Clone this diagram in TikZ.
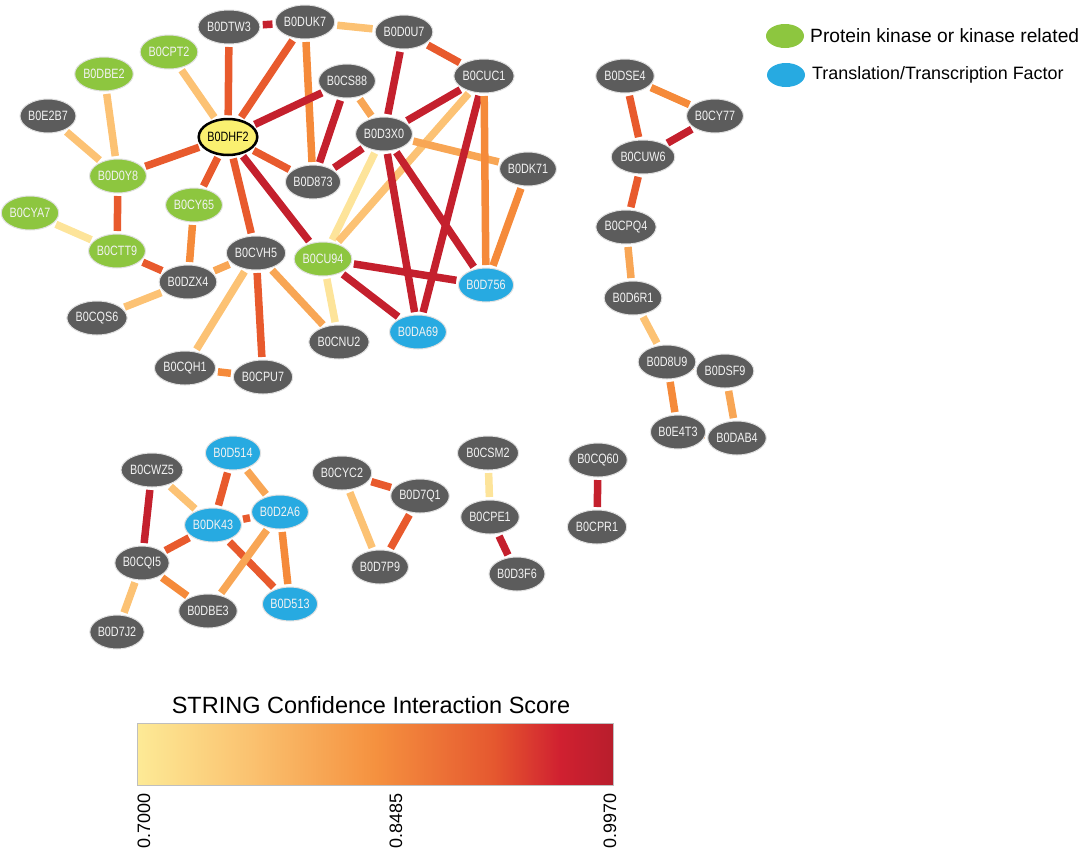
\documentclass[tikz,border=0pt]{standalone}
\usepackage{fontspec}
\setmainfont{Liberation Sans}
\newfontfamily\nodefont[FakeStretch=0.8]{Liberation Sans}
\usetikzlibrary{shapes.geometric}
\pgfdeclarelayer{edgelayer}
\pgfsetlayers{edgelayer,main}
\definecolor{ngray}{RGB}{92,92,92}
\definecolor{ngreen}{RGB}{141,198,63}
\definecolor{nblue}{RGB}{39,170,225}
\definecolor{nyellow}{RGB}{250,240,112}
\definecolor{sA}{HTML}{FDE49A}
\definecolor{sB}{HTML}{FCC274}
\definecolor{sC}{HTML}{F8A655}
\definecolor{sD}{HTML}{F58A3A}
\definecolor{sE}{HTML}{E85A2D}
\definecolor{sF}{HTML}{C4202D}
\definecolor{gA}{HTML}{FDEA96}
\definecolor{gB}{HTML}{FAC06E}
\definecolor{gC}{HTML}{F5913F}
\definecolor{gD}{HTML}{E5572F}
\definecolor{gE}{HTML}{D02030}
\definecolor{gF}{HTML}{B81E2C}
\tikzset{
  prot/.style={ellipse, minimum width=51pt, minimum height=34pt, inner sep=0pt,
    fill=ngray, draw=white!88!black, line width=1pt, text=white!95!black,
    font=\nodefont\fontsize{13.5}{14}\selectfont},
  kin/.style={prot, fill=ngreen},
  tf/.style={prot, fill=nblue},
  hub/.style={prot, fill=nyellow, draw=black, line width=2.5pt, text=black,
    minimum width=54pt, minimum height=36pt},
  lnk/.style={line width=7.5pt, shorten >=2.5pt, shorten <=2.5pt},
  lA/.style={lnk, draw=sA}, lB/.style={lnk, draw=sB}, lC/.style={lnk, draw=sC},
  lD/.style={lnk, draw=sD}, lE/.style={lnk, draw=sE}, lF/.style={lnk, draw=sF},
  legdot/.style={ellipse, minimum width=38pt, minimum height=24pt, inner sep=0pt},
  legtext/.style={anchor=west, inner sep=0pt},
  ticklabel/.style={rotate=90, anchor=east, inner sep=0pt, font=\fontsize{18}{18}\selectfont}
}
\newcommand\lk[3]{\draw[#1] (#2) -- (#3);}
\begin{document}
\begin{tikzpicture}[x=1pt,y=-1pt]
\useasboundingbox (0,0) rectangle (1084,860);
% main cluster
\node[prot] (DTW3) at (229,27) {B0DTW3};
\node[prot] (DUK7) at (305,22) {B0DUK7};
\node[prot] (D0U7) at (404,32) {B0D0U7};
\node[kin]  (CPT2) at (169,52) {B0CPT2};
\node[kin]  (DBE2) at (104,74) {B0DBE2};
\node[prot] (CS88) at (347,81) {B0CS88};
\node[prot] (CUC1) at (484,76) {B0CUC1};
\node[prot] (E2B7) at (48,116) {B0E2B7};
\node[hub]  (DHF2) at (228,137) {B0DHF2};
\node[prot] (D3X0) at (384,134) {B0D3X0};
\node[prot] (DK71) at (528,169) {B0DK71};
\node[prot] (D873) at (313,182) {B0D873};
\node[kin]  (D0Y8) at (118,176) {B0D0Y8};
\node[kin]  (CY65) at (194,205) {B0CY65};
\node[kin]  (CYA7) at (30,213) {B0CYA7};
\node[kin]  (CTT9) at (117,251) {B0CTT9};
\node[prot] (CVH5) at (256,253) {B0CVH5};
\node[kin]  (CU94) at (323,259) {B0CU94};
\node[prot] (DZX4) at (188,282) {B0DZX4};
\node[tf]   (D756) at (486,285) {B0D756};
\node[prot] (CQS6) at (97,318) {B0CQS6};
\node[tf]   (DA69) at (418,332) {B0DA69};
\node[prot] (CNU2) at (339,342) {B0CNU2};
\node[prot] (CQH1) at (185,368) {B0CQH1};
\node[prot] (CPU7) at (263,377) {B0CPU7};
% right cluster
\node[prot] (DSE4) at (625,76) {B0DSE4};
\node[prot] (CY77) at (715,116) {B0CY77};
\node[prot] (CUW6) at (643,157) {B0CUW6};
\node[prot] (CPQ4) at (626,227) {B0CPQ4};
\node[prot] (D6R1) at (633,298) {B0D6R1};
\node[prot] (D8U9) at (667,362) {B0D8U9};
\node[prot] (DSF9) at (725,371) {B0DSF9};
\node[prot] (E4T3) at (678,432) {B0E4T3};
\node[prot] (DAB4) at (737,438) {B0DAB4};
% bottom clusters
\node[tf]   (D514) at (233,453) {B0D514};
\node[prot] (CWZ5) at (152,470) {B0CWZ5};
\node[tf]   (D2A6) at (280,512) {B0D2A6};
\node[tf]   (DK43) at (213,525) {B0DK43};
\node[prot] (CQI5) at (142,563) {B0CQI5};
\node[prot] (DBE3) at (208,611) {B0DBE3};
\node[tf]   (D513) at (290,604) {B0D513};
\node[prot] (D7J2) at (117,632) {B0D7J2};
\node[prot] (CYC2) at (342,473) {B0CYC2};
\node[prot] (D7Q1) at (420,496) {B0D7Q1};
\node[prot] (D7P9) at (380,567) {B0D7P9};
\node[prot] (CSM2) at (488,453) {B0CSM2};
\node[prot] (CPE1) at (490,517) {B0CPE1};
\node[prot] (D3F6) at (517,574) {B0D3F6};
\node[prot] (CQ60) at (598,460) {B0CQ60};
\node[prot] (CPR1) at (597,527) {B0CPR1};
\begin{pgfonlayer}{edgelayer}
\lk{lF}{DTW3}{DUK7}
\lk{lB}{DUK7}{D0U7}
\lk{lE}{D0U7}{CUC1}
\lk{lF}{D0U7}{D3X0}
\lk{lE}{DHF2}{DTW3}
\lk{lE}{DHF2}{DUK7}
\lk{lD}{DUK7}{D873}
\lk{lB}{DHF2}{CPT2}
\lk{lF}{DHF2}{CS88}
\lk{lF}{CS88}{D873}
\lk{lC}{CS88}{D3X0}
\lk{lF}{D3X0}{D873}
\lk{lE}{DHF2}{D873}
\lk{lE}{DHF2}{D0Y8}
\lk{lB}{D0Y8}{DBE2}
\lk{lB}{D0Y8}{E2B7}
\lk{lE}{D0Y8}{CTT9}
\lk{lA}{CTT9}{CYA7}
\lk{lE}{CTT9}{DZX4}
\lk{lE}{DHF2}{CY65}
\lk{lD}{CY65}{DZX4}
\lk{lC}{DZX4}{CVH5}
\lk{lB}{DZX4}{CQS6}
\lk{lE}{DHF2}{CVH5}
\lk{lF}{DHF2}{CU94}
\lk{lB}{CVH5}{CQH1}
\lk{lE}{CVH5}{CPU7}
\lk{lC}{CVH5}{CNU2}
\lk{lD}{CQH1}{CPU7}
\lk{lA}{CU94}{CNU2}
\lk{lA}{CU94}{D3X0}
\lk{lB}{CU94}{CUC1}
\lk{lF}{CU94}{D756}
\lk{lF}{CU94}{DA69}
\lk{lF}{D3X0}{CUC1}
\lk{lC}{D3X0}{DK71}
\lk{lF}{D3X0}{DA69}
\lk{lF}{D3X0}{D756}
\lk{lF}{CUC1}{DA69}
\lk{lD}{CUC1}{D756}
\lk{lD}{DK71}{D756}
\lk{lD}{DSE4}{CY77}
\lk{lE}{DSE4}{CUW6}
\lk{lF}{CY77}{CUW6}
\lk{lE}{CUW6}{CPQ4}
\lk{lC}{CPQ4}{D6R1}
\lk{lB}{D6R1}{D8U9}
\lk{lD}{D8U9}{DSF9}
\lk{lD}{D8U9}{E4T3}
\lk{lC}{DSF9}{DAB4}
\lk{lD}{E4T3}{DAB4}
\lk{lF}{CWZ5}{CQI5}
\lk{lB}{CWZ5}{DK43}
\lk{lE}{D514}{DK43}
\lk{lC}{D514}{D2A6}
\lk{lE}{DK43}{D2A6}
\lk{lE}{DK43}{CQI5}
\lk{lE}{DK43}{D513}
\lk{lC}{D2A6}{DBE3}
\lk{lD}{D2A6}{D513}
\lk{lD}{CQI5}{DBE3}
\lk{lB}{CQI5}{D7J2}
\lk{lE}{CYC2}{D7Q1}
\lk{lB}{CYC2}{D7P9}
\lk{lE}{D7Q1}{D7P9}
\lk{lA}{CSM2}{CPE1}
\lk{lF}{CPE1}{D3F6}
\lk{lF}{CQ60}{CPR1}
\end{pgfonlayer}
% legend
\node[legdot, fill=ngreen] (legK) at (785,36) {};
\node[legdot, fill=nblue] (legT) at (786,75) {};
\node[legtext, font=\fontsize{19.2}{20}\selectfont] (legKt) at (810,36) {Protein kinase or kinase related};
\node[legtext, font=\fontsize{17.9}{19}\selectfont] (legTt) at (812,75) {Translation/Transcription Factor};
% colour bar
\node[font=\fontsize{23.5}{24}\selectfont, inner sep=0pt] (cbtitle) at (371,705) {STRING Confidence Interaction Score};
\shade[left color=gA, right color=gB] (137,723) rectangle (255.5,785);
\shade[left color=gB, right color=gC] (255,723) rectangle (375.5,785);
\shade[left color=gC, right color=gD] (375,723) rectangle (495.5,785);
\shade[left color=gD, right color=gE] (495,723) rectangle (560.5,785);
\shade[left color=gE, right color=gF] (560,723) rectangle (613,785);
\draw[black!25, line width=0.8pt] (137,723) rectangle (613,785);
\node[ticklabel] (t1) at (144,793) {0.7000};
\node[ticklabel] (t2) at (396,793) {0.8485};
\node[ticklabel] (t3) at (610,793) {0.9970};
\end{tikzpicture}
\end{document}
